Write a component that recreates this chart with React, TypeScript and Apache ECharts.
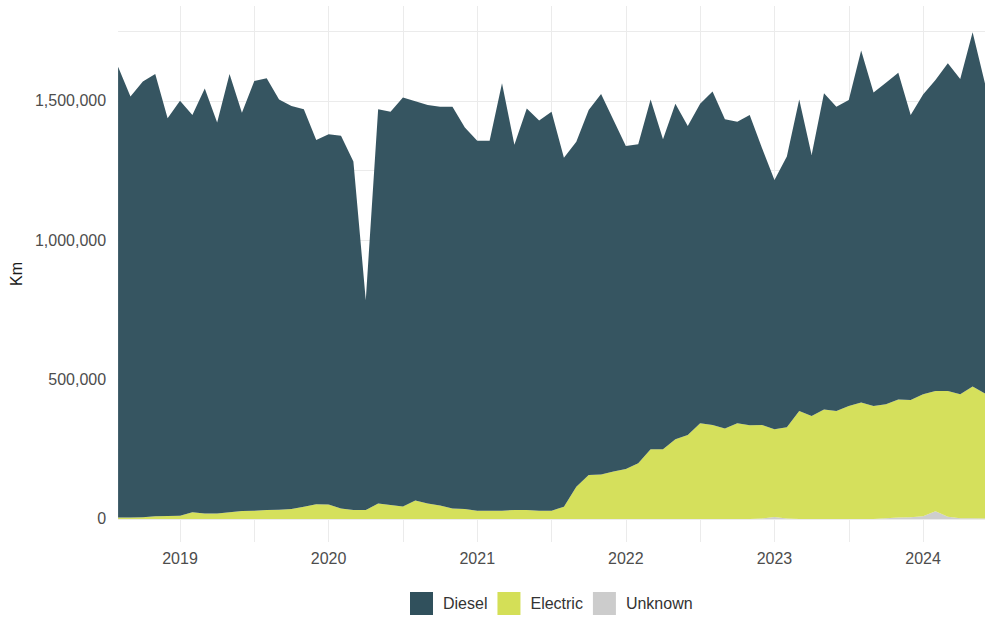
import React, { useEffect, useRef } from "react";
import * as echarts from "echarts";

// Monthly categories (Aug 2018 – Jun 2024)
const months: string[] = [
  "2018-08", "2018-09", "2018-10", "2018-11", "2018-12",
  "2019-01", "2019-02", "2019-03", "2019-04", "2019-05", "2019-06", "2019-07", "2019-08", "2019-09", "2019-10", "2019-11", "2019-12",
  "2020-01", "2020-02", "2020-03", "2020-04", "2020-05", "2020-06", "2020-07", "2020-08", "2020-09", "2020-10", "2020-11", "2020-12",
  "2021-01", "2021-02", "2021-03", "2021-04", "2021-05", "2021-06", "2021-07", "2021-08", "2021-09", "2021-10", "2021-11", "2021-12",
  "2022-01", "2022-02", "2022-03", "2022-04", "2022-05", "2022-06", "2022-07", "2022-08", "2022-09", "2022-10", "2022-11", "2022-12",
  "2023-01", "2023-02", "2023-03", "2023-04", "2023-05", "2023-06", "2023-07", "2023-08", "2023-09", "2023-10", "2023-11", "2023-12",
  "2024-01", "2024-02", "2024-03", "2024-04", "2024-05", "2024-06",
];

const diesel: number[] = [
  1617000, 1510000, 1563000, 1586000, 1426000,
  1488000, 1425000, 1524000, 1402000, 1572000, 1428000, 1541000, 1549000, 1472000, 1445000, 1426000, 1306000,
  1328000, 1337000, 1250000, 753000, 1414000, 1411000, 1467000, 1432000, 1429000, 1431000, 1441000, 1368000,
  1327000, 1327000, 1533000, 1310000, 1440000, 1399000, 1431000, 1252000, 1237000, 1309000, 1364000, 1261000,
  1159000, 1144000, 1255000, 1112000, 1203000, 1109000, 1146000, 1196000, 1109000, 1082000, 1113000, 993000,
  894000, 971000, 1118000, 937000, 1134000, 1092000, 1098000, 1262000, 1125000, 1153000, 1172000, 1022000,
  1076000, 1116000, 1176000, 1131000, 1271000, 1112000,
];

const electric: number[] = [
  5000, 5000, 6000, 10000, 11000,
  12000, 24000, 20000, 20000, 24000, 29000, 30000, 32000, 33000, 36000, 44000, 53000,
  52000, 38000, 32000, 32000, 56000, 50000, 45000, 66000, 56000, 48000, 38000, 36000,
  30000, 30000, 30000, 32000, 32000, 30000, 30000, 44000, 116000, 158000, 160000, 170000,
  179000, 200000, 250000, 250000, 286000, 301000, 343000, 337000, 325000, 343000, 336000, 335000,
  315000, 327000, 387000, 369000, 393000, 387000, 405000, 418000, 405000, 409000, 424000, 421000,
  437000, 431000, 451000, 444000, 472000, 448000,
];

const unknown: number[] = [
  0, 0, 0, 0, 0,
  0, 0, 0, 0, 0, 0, 0, 0, 0, 0, 0, 0,
  0, 0, 0, 0, 0, 0, 0, 0, 0, 0, 0, 0,
  0, 0, 0, 0, 0, 0, 0, 0, 0, 0, 0, 0,
  0, 0, 0, 0, 0, 0, 0, 0, 0, 0, 0, 2000,
  7000, 2000, 0, 0, 0, 0, 0, 0, 0, 3000, 5000, 6000,
  10000, 28000, 8000, 3000, 3000, 2000,
];

const yTickLabels: number[] = [0, 500000, 1000000, 1500000];
const yGridValues: number[] = [0, 250000, 500000, 750000, 1000000, 1250000, 1500000, 1750000];

const monthOf = (s: string) => Number(s.split("-")[1]);

export default function App() {
  const ref = useRef<HTMLDivElement>(null);
  useEffect(() => {
    document.body.style.margin = "0";
    if (!ref.current) return;
    const chart = echarts.init(ref.current, undefined, { renderer: "svg" });
    const font = "'Liberation Sans', Arial, sans-serif";
    const isGrid = (i: number) => monthOf(months[i]) === 1 || monthOf(months[i]) === 7;
    const isLabel = (i: number) => monthOf(months[i]) === 1;
    const mk = (name: string, vals: number[], color: string) => ({
      name,
      type: "line",
      stack: "total",
      data: vals,
      showSymbol: false,
      symbol: "none",
      lineStyle: { width: 0 },
      itemStyle: { color },
      areaStyle: { color, opacity: 0.97 },
      emphasis: { disabled: true },
      z: 3,
    });
    chart.setOption({
      animation: false,
      textStyle: { fontFamily: font },
      grid: { left: 113, top: 6, width: 875.6, height: 536, containLabel: false },
      legend: {
        data: ["Diesel", "Electric", "Unknown"],
        left: 405,
        top: 587,
        icon: "rect",
        itemWidth: 23,
        itemHeight: 23,
        itemGap: 10,
        selectedMode: false,
        textStyle: { fontSize: 16, color: "#333", fontFamily: font, padding: [0, 0, 0, 5] },
      },
      xAxis: {
        type: "category",
        data: months,
        boundaryGap: false,
        axisLine: { show: false },
        axisTick: { show: false, interval: (i: number) => isGrid(i) },
        axisLabel: {
          interval: (i: number) => isLabel(i),
          formatter: (v: string) => v.split("-")[0],
          color: "#4d4d4d",
          fontSize: 16,
          margin: 8,
          fontFamily: font,
        },
        splitLine: { show: true, interval: (i: number) => isGrid(i), lineStyle: { color: "#ebebeb", width: 1 } },
      },
      yAxis: {
        type: "value",
        min: -82500,
        max: 1840000,
        name: "Km",
        nameLocation: "middle",
        nameGap: 86,
        nameTextStyle: { fontSize: 16, color: "#1a1a1a", fontFamily: font },
        axisLine: { show: false },
        axisTick: { show: false, customValues: yGridValues },
        axisLabel: {
          customValues: yTickLabels,
          formatter: (v: number) => v.toLocaleString("en-US"),
          color: "#4d4d4d",
          fontSize: 16,
          margin: 12,
          fontFamily: font,
        },
        splitLine: { show: true, lineStyle: { color: "#ebebeb", width: 1 } },
      },
      series: [
        mk("Unknown", unknown, "#cccccc"),
        mk("Electric", electric, "#d4df57"),
        mk("Diesel", diesel, "#30505c"),
      ],
    });
    return () => chart.dispose();
  }, []);
  return <div ref={ref} style={{ width: 985, height: 617 }} />;
}
